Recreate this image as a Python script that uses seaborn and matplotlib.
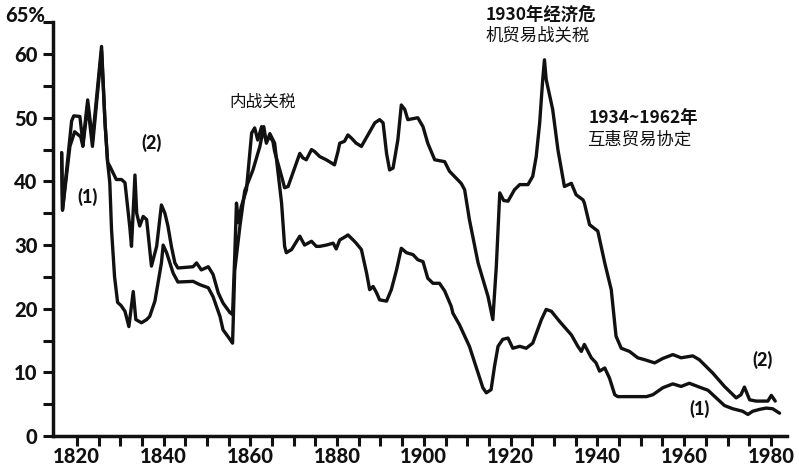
import numpy as np
import pandas as pd
import matplotlib
matplotlib.use("Agg")
import matplotlib.pyplot as plt
import seaborn as sns

# (2) tariff rate on dutiable imports (upper curve)
dut_years = [1816.5, 1816.7, 1818.8, 1819.3, 1820.7, 1821.4, 1822.5, 1823.6, 1825.7, 1826.5,
             1827.1, 1827.6, 1829.1, 1830.3, 1831.1, 1832.2, 1832.6, 1833.4, 1833.8, 1834.5,
             1835.3, 1836.1, 1837.2, 1838.4, 1839.5, 1840.3, 1841.0, 1841.8, 1842.6, 1843.3,
             1846.8, 1847.6, 1848.7, 1850.3, 1851.4, 1852.6, 1853.7, 1855.3, 1855.9, 1856.4,
             1856.8, 1857.3, 1857.9, 1859.1, 1860.3, 1861.0, 1861.7, 1862.6, 1863.7, 1864.5,
             1865.2, 1865.6, 1867.2, 1867.9, 1868.7, 1869.8, 1871.4, 1872.1, 1872.9, 1874.1,
             1874.8, 1876.0, 1877.5, 1879.4, 1880.2, 1880.6, 1881.7, 1882.5, 1883.3, 1884.4,
             1885.6, 1887.1, 1888.7, 1889.8, 1890.6, 1891.4, 1892.1, 1892.9, 1894.0, 1894.8,
             1895.6, 1896.3, 1898.6, 1899.8, 1900.9, 1902.5, 1904.8, 1905.9, 1908.6, 1909.4,
             1910.5, 1912.5, 1914.8, 1915.9, 1916.7, 1917.5, 1918.4, 1919.4, 1920.9, 1922.1,
             1924.0, 1925.1, 1925.9, 1926.7, 1927.4, 1927.8, 1928.2, 1929.7, 1930.9, 1932.4,
             1934.0, 1935.1, 1936.7, 1937.0, 1938.2, 1940.1, 1941.7, 1943.2, 1944.3, 1945.5,
             1947.4, 1949.3, 1950.9, 1953.2, 1955.1, 1957.4, 1959.3, 1962.0, 1963.5, 1966.6,
             1969.3, 1972.0, 1973.1, 1973.9, 1975.1, 1976.6, 1979.3, 1980.1, 1981.0]
dut_rate = [44.5, 35.5, 49.5, 50.3, 50.2, 46.0, 52.8, 46.5, 61.2, 49.2,
            43.0, 42.4, 40.3, 40.3, 39.8, 32.9, 29.8, 41.0, 35.0, 33.0,
            34.5, 34.0, 26.7, 29.8, 36.3, 35.0, 33.0, 29.8, 27.2, 26.4,
            26.6, 27.2, 26.1, 26.6, 25.4, 22.5, 20.9, 19.4, 19.1, 28.2,
            36.6, 33.5, 36.0, 38.7, 47.6, 48.4, 46.5, 48.6, 46.3, 47.0,
            46.3, 44.7, 40.8, 39.0, 39.2, 41.3, 44.4, 43.7, 43.4, 45.0,
            44.7, 43.9, 43.4, 42.6, 44.7, 46.0, 46.3, 47.3, 46.8, 46.0,
            45.5, 47.3, 49.2, 49.7, 49.2, 44.4, 41.8, 42.1, 46.5, 52.0,
            51.3, 49.7, 50.0, 48.6, 46.0, 43.4, 43.1, 41.6, 39.7, 38.7,
            34.0, 27.2, 21.9, 18.3, 26.6, 38.2, 37.0, 36.9, 38.7, 39.5,
            39.5, 40.8, 43.9, 49.2, 56.0, 59.1, 56.0, 51.3, 45.0, 39.2,
            39.7, 37.9, 37.1, 36.6, 33.2, 32.2, 27.2, 23.0, 15.7, 13.8,
            13.3, 12.3, 12.0, 11.5, 12.2, 12.8, 12.3, 12.6, 12.0, 9.9,
            7.8, 6.0, 6.5, 7.7, 5.7, 5.5, 5.5, 6.4, 5.5]

# (1) tariff rate on all imports (lower curve)
all_years = [1816.5, 1816.7, 1818.4, 1819.5, 1820.9, 1821.4, 1822.5, 1823.6, 1825.7, 1826.5,
             1827.1, 1827.6, 1828.0, 1828.7, 1829.4, 1830.2, 1831.1, 1832.0, 1833.0, 1833.6,
             1834.9, 1836.1, 1836.8, 1838.0, 1838.7, 1839.5, 1839.9, 1840.7, 1842.2, 1843.3,
             1846.8, 1848.3, 1850.3, 1851.4, 1853.0, 1853.7, 1855.3, 1855.9, 1856.4, 1857.6,
             1858.7, 1860.6, 1862.2, 1863.1, 1863.7, 1864.5, 1865.6, 1866.4, 1867.2, 1867.9,
             1868.3, 1869.5, 1871.4, 1872.5, 1874.1, 1875.2, 1876.0, 1877.5, 1879.1, 1879.8,
             1880.6, 1882.1, 1882.5, 1883.7, 1884.4, 1885.6, 1886.8, 1887.5, 1888.3, 1889.1,
             1889.8, 1891.4, 1892.5, 1893.7, 1894.8, 1896.0, 1897.5, 1898.6, 1899.8, 1900.9,
             1902.1, 1903.6, 1904.8, 1906.3, 1906.7, 1908.2, 1910.5, 1912.5, 1913.6, 1914.4,
             1915.5, 1916.3, 1917.1, 1918.2, 1919.4, 1920.5, 1922.1, 1923.6, 1925.1, 1927.1,
             1928.2, 1929.4, 1931.3, 1934.0, 1935.5, 1936.3, 1937.0, 1938.6, 1939.7, 1940.5,
             1941.7, 1942.8, 1944.0, 1944.7, 1951.3, 1952.8, 1955.1, 1957.4, 1959.3, 1961.2,
             1963.5, 1965.5, 1967.4, 1969.3, 1971.2, 1973.5, 1974.7, 1975.8, 1977.4, 1978.9,
             1980.4, 1982.0]
all_rate = [44.5, 35.5, 45.5, 47.8, 47.0, 45.5, 52.0, 45.5, 60.5, 49.2,
            43.0, 39.8, 32.4, 25.0, 21.0, 20.5, 19.6, 17.2, 22.7, 18.3,
            17.8, 18.3, 18.8, 21.2, 24.0, 27.2, 30.0, 28.8, 25.6, 24.2,
            24.3, 23.8, 23.3, 21.9, 18.8, 16.7, 15.2, 14.6, 26.0, 33.0,
            38.5, 41.8, 45.5, 48.6, 46.0, 47.5, 46.0, 41.3, 36.6, 29.8,
            28.8, 29.3, 31.4, 30.0, 30.6, 29.8, 29.8, 30.0, 30.3, 29.4,
            30.8, 31.4, 31.6, 30.8, 30.3, 29.3, 25.6, 23.0, 23.5, 22.5,
            21.4, 21.2, 23.0, 26.1, 29.5, 28.8, 28.5, 27.7, 27.4, 24.8,
            24.0, 24.0, 22.8, 20.4, 19.3, 17.5, 14.1, 9.9, 7.6, 6.8,
            7.3, 11.0, 14.1, 15.2, 15.4, 13.8, 14.1, 13.8, 14.6, 18.3,
            19.9, 19.6, 18.0, 15.9, 14.1, 13.3, 14.4, 12.3, 11.5, 10.2,
            10.7, 9.1, 6.5, 6.2, 6.2, 6.5, 7.6, 8.2, 7.8, 8.3,
            7.7, 7.2, 6.0, 4.8, 4.3, 3.9, 3.4, 3.9, 4.2, 4.4,
            4.3, 3.6]

y_ticks = [0, 10, 20, 30, 40, 50, 60]
x_ticks = [1820, 1840, 1860, 1880, 1900, 1920, 1940, 1960, 1980]

sns.set_theme(style="ticks")
plt.rcParams["font.family"] = ["Lato", "DejaVu Sans"]
cjk = ["Noto Sans CJK SC", "DejaVu Sans"]

fig = plt.figure(figsize=(7.99, 4.73), dpi=100)
ax = fig.add_axes([0.0663, 0.078, 0.9186, 0.875])

df = pd.concat([
    pd.DataFrame({"year": dut_years, "rate": dut_rate, "series": "dutiable"}),
    pd.DataFrame({"year": all_years, "rate": all_rate, "series": "all"}),
])
sns.lineplot(data=df, x="year", y="rate", hue="series", units="series",
             estimator=None, sort=False, palette=["#111111", "#111111"],
             linewidth=2.4, legend=False, ax=ax)
for line in ax.lines:
    line.set_solid_joinstyle("round")
    line.set_solid_capstyle("round")

ax.set_xlim(1814.5, 1983.7)
ax.set_ylim(0, 65)
ax.set_xlabel("")
ax.set_ylabel("")
sns.despine(ax=ax)
for s in ["left", "bottom"]:
    ax.spines[s].set_linewidth(2.5)
    ax.spines[s].set_color("#111111")

ax.set_xticks(x_ticks)
ax.set_xticks(np.arange(1820, 1985, 5), minor=True)
ax.set_yticks(y_ticks)
ax.set_yticks(np.arange(5, 70, 10), minor=True)
ax.tick_params(which="both", direction="out", length=7, width=2.2, color="#111111")
ax.tick_params(axis="x", which="major", pad=1)
ax.tick_params(axis="y", which="major", pad=4)
for lab in ax.get_xticklabels() + ax.get_yticklabels():
    lab.set_fontsize(14.5)
    lab.set_fontweight(900)
    lab.set_color("#111111")

ax.text(1812.7, 65, "65%", ha="right", va="baseline", fontsize=14.5,
        fontweight=900, color="#111111", clip_on=False)

# annotations
ax.text(1862.9, 52.4, "内战关税", ha="center", va="center", fontsize=12,
        family=cjk, fontweight="medium", color="#111111")
ax.text(1914.3, 66.2, "1930年经济危", ha="left", va="center", fontsize=12.5,
        family=cjk, fontweight="bold", color="#111111", clip_on=False)
ax.text(1914.2, 63.0, "机贸易战关税", ha="left", va="center", fontsize=12.5,
        family=cjk, fontweight="medium", color="#111111", clip_on=False)
ax.text(1937.9, 50.0, "1934~1962年", ha="left", va="center", fontsize=12.5,
        family=cjk, fontweight="bold", color="#111111")
ax.text(1937.7, 46.5, "互惠贸易协定", ha="left", va="center", fontsize=12.5,
        family=cjk, fontweight="medium", color="#111111")

for x, y, s in [(1822.5, 37.6, "(1)"), (1837.3, 46.1, "(2)"),
                (1978.1, 12.0, "(2)"), (1963.5, 4.2, "(1)")]:
    ax.text(x, y, s, ha="center", va="center", fontsize=13,
            fontweight=900, color="#111111")

fig.savefig("out.png", dpi=100, facecolor="white")
